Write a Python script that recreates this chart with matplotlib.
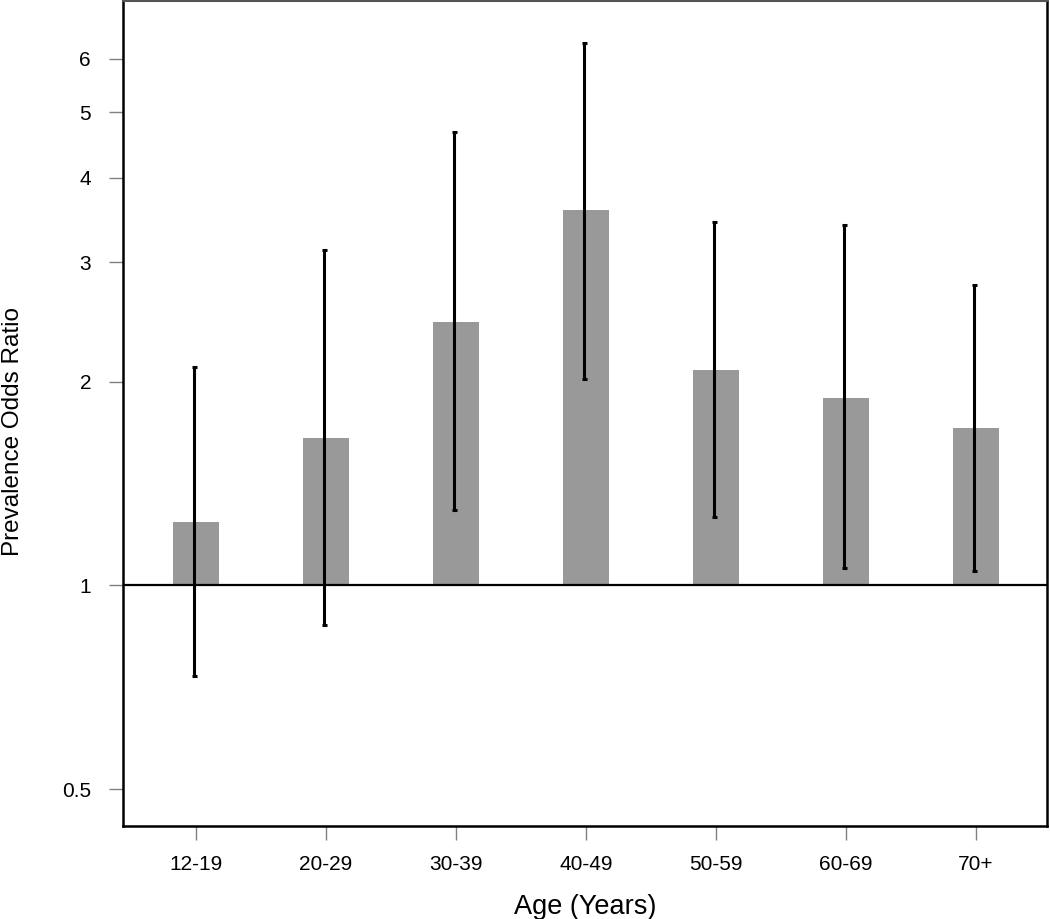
import matplotlib
matplotlib.use("Agg")
import matplotlib.pyplot as plt
import numpy as np

categories = ["12-19", "20-29", "30-39", "40-49", "50-59", "60-69", "70+"]
odds_ratio = [1.24, 1.65, 2.45, 3.58, 2.08, 1.89, 1.71]
ci_lower = [0.734, 0.873, 1.29, 2.02, 1.26, 1.06, 1.05]
ci_upper = [2.10, 3.13, 4.68, 6.33, 3.44, 3.41, 2.78]
yticks = [0.5, 1, 2, 3, 4, 5, 6]
ytick_labels = ["0.5", "1", "2", "3", "4", "5", "6"]

plt.rcParams['font.family'] = ['Liberation Sans', 'DejaVu Sans']

fig = plt.figure(figsize=(10.5, 9.19), dpi=100)
ax = fig.add_axes([123/1050, 1 - 826/919, (1047-123)/1050, 826/919 - 0.001])

x = np.arange(len(categories))
ax.set_yscale('log')
heights = [v - 1 for v in odds_ratio]
ax.bar(x, heights, bottom=1, width=0.35, color='#999999', zorder=1)
ax.axhline(1, color='black', lw=1.6, zorder=2)
x_err = x - 0.012
for xi, lo, hi in zip(x_err, ci_lower, ci_upper):
    ax.vlines(xi, lo, hi, color='black', lw=2.2, zorder=3)
    ax.hlines([lo, hi], xi - 0.022, xi + 0.022, color='black', lw=2.2, zorder=3)

ax.set_xlim(-0.5615, 6.546)
ax.set_ylim(0.441, 7.30)
ax.set_yticks(yticks)
ax.set_yticklabels(ytick_labels)
ax.yaxis.set_minor_locator(matplotlib.ticker.NullLocator())
ax.set_xticks(x)
ax.set_xticklabels(categories)
ax.tick_params(axis='both', which='major', labelsize=15, length=10, width=1, color='#808080')
ax.tick_params(axis='y', pad=13)
ax.tick_params(axis='x', pad=11)

for s in ['left', 'bottom', 'right']:
    ax.spines[s].set_linewidth(1.8)
    ax.spines[s].set_color('black')
ax.spines['top'].set_linewidth(1.5)
ax.spines['top'].set_color('#555555')

ax.set_xlabel("Age (Years)", fontsize=19.5)
ax.xaxis.set_label_coords(0.5, -0.082)
ax.set_ylabel("Prevalence Odds Ratio", fontsize=17.5)
ax.yaxis.set_label_coords(-0.107, 0.478)

fig.savefig("out.png", dpi=100)
